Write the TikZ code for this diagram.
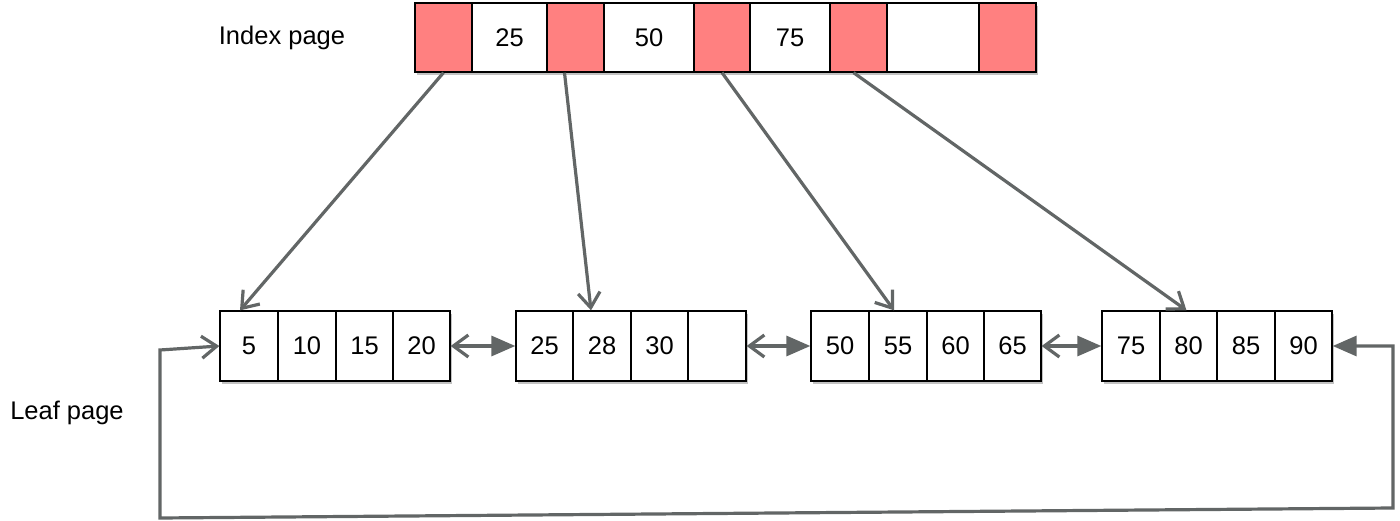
\documentclass[tikz,border=0pt]{standalone}
\usepackage{fontspec}
\setmainfont{Liberation Sans}
\usetikzlibrary{arrows.meta,shadows,calc}
\definecolor{cellred}{RGB}{255,128,128}
\definecolor{linegray}{RGB}{98,102,102}
\begin{document}
\begin{tikzpicture}[x=1pt,y=-1pt,
  cellbox/.style={draw=black, line width=1.3pt, inner sep=0pt, font=\fontsize{25.5}{30}\selectfont},
  groupframe/.style={draw=black, line width=1.3pt, fill=white, inner sep=0pt,
     drop shadow={shadow xshift=1.5pt, shadow yshift=-3pt, opacity=0.4, fill=black!60}},
  conn/.style={draw=linegray, line width=3.2pt},
  openhead/.tip={Straight Barb[length=15pt,width=22pt,line width=3.2pt]},
  solidhead/.tip={Triangle[length=24pt,width=20pt]},
  lbl/.style={font=\fontsize{25.5}{30}\selectfont, inner sep=0pt}]
\useasboundingbox (0,0) rectangle (1400,521);

% labels
\node[lbl] (ip) at (282,38) {Index page};
\node[lbl] (lp) at (67,413) {Leaf page};

% index page
\node[groupframe, minimum width=621pt, minimum height=69pt] (idx) at (725.5,37.5) {};
\foreach \n/\a/\b/\t/\f in {i1/415/472//cellred, i2/472/547/25/white, i3/547/604//cellred,
  i4/604/694/50/white, i5/694/750//cellred, i6/750/830/75/white, i7/830/887//cellred,
  i8/887/979//white, i9/979/1036//cellred}
  \node[cellbox, fill=\f, minimum width={\b-\a}, minimum height=69pt] (\n) at ({(\a+\b)/2},37.5) {\t};

% leaf pages
\node[groupframe, minimum width=230pt, minimum height=70pt] (l1) at (335,346) {};
\node[groupframe, minimum width=230pt, minimum height=70pt] (l2) at (631,346) {};
\node[groupframe, minimum width=230pt, minimum height=70pt] (l3) at (926,346) {};
\node[groupframe, minimum width=230pt, minimum height=70pt] (l4) at (1217,346) {};
\foreach \n/\a/\b/\t in {l1a/220/278/5, l1b/278/336/10, l1c/336/393/15, l1d/393/450/20,
  l2a/516/573/25, l2b/573/631/28, l2c/631/688/30, l2d/688/746/,
  l3a/811/869/50, l3b/869/927/55, l3c/927/984/60, l3d/984/1041/65,
  l4a/1102/1160/75, l4b/1160/1217/80, l4c/1217/1275/85, l4d/1275/1332/90}
  \node[cellbox, fill=white, minimum width={\b-\a}, minimum height=70pt] (\n) at ({(\a+\b)/2},346) {\t};

% index -> leaf arrows
\draw[conn, -openhead] (i1.south) -- ($(l1a.north)+(-9,0)$);
\draw[conn, -openhead] ($(i3.south)+(-11,0)$) -- ($(l2b.north)+(-11,0)$);
\draw[conn, -openhead] (i5.south) -- ($(l3b.north)+(-4,0)$);
\draw[conn, -openhead] ($(i7.south)+(-5,0)$) -- ($(l4b.north)+(-2,0)$);

% sibling links
\draw[conn, openhead-solidhead] (l1.east) -- (l2.west);
\draw[conn, openhead-solidhead] (l2.east) -- (l3.west);
\draw[conn, openhead-solidhead] (l3.east) -- (l4.west);

% wrap-around link
\coordinate (lp1) at (160,350);
\coordinate (lp2) at (160,518);
\coordinate (lp3) at (1393,508);
\coordinate (lp4) at (1393,346);
\draw[conn, openhead-solidhead] (l1.west) -- (lp1) -- (lp2) -- (lp3) -- (lp4) -- (l4.east);
\end{tikzpicture}
\end{document}
